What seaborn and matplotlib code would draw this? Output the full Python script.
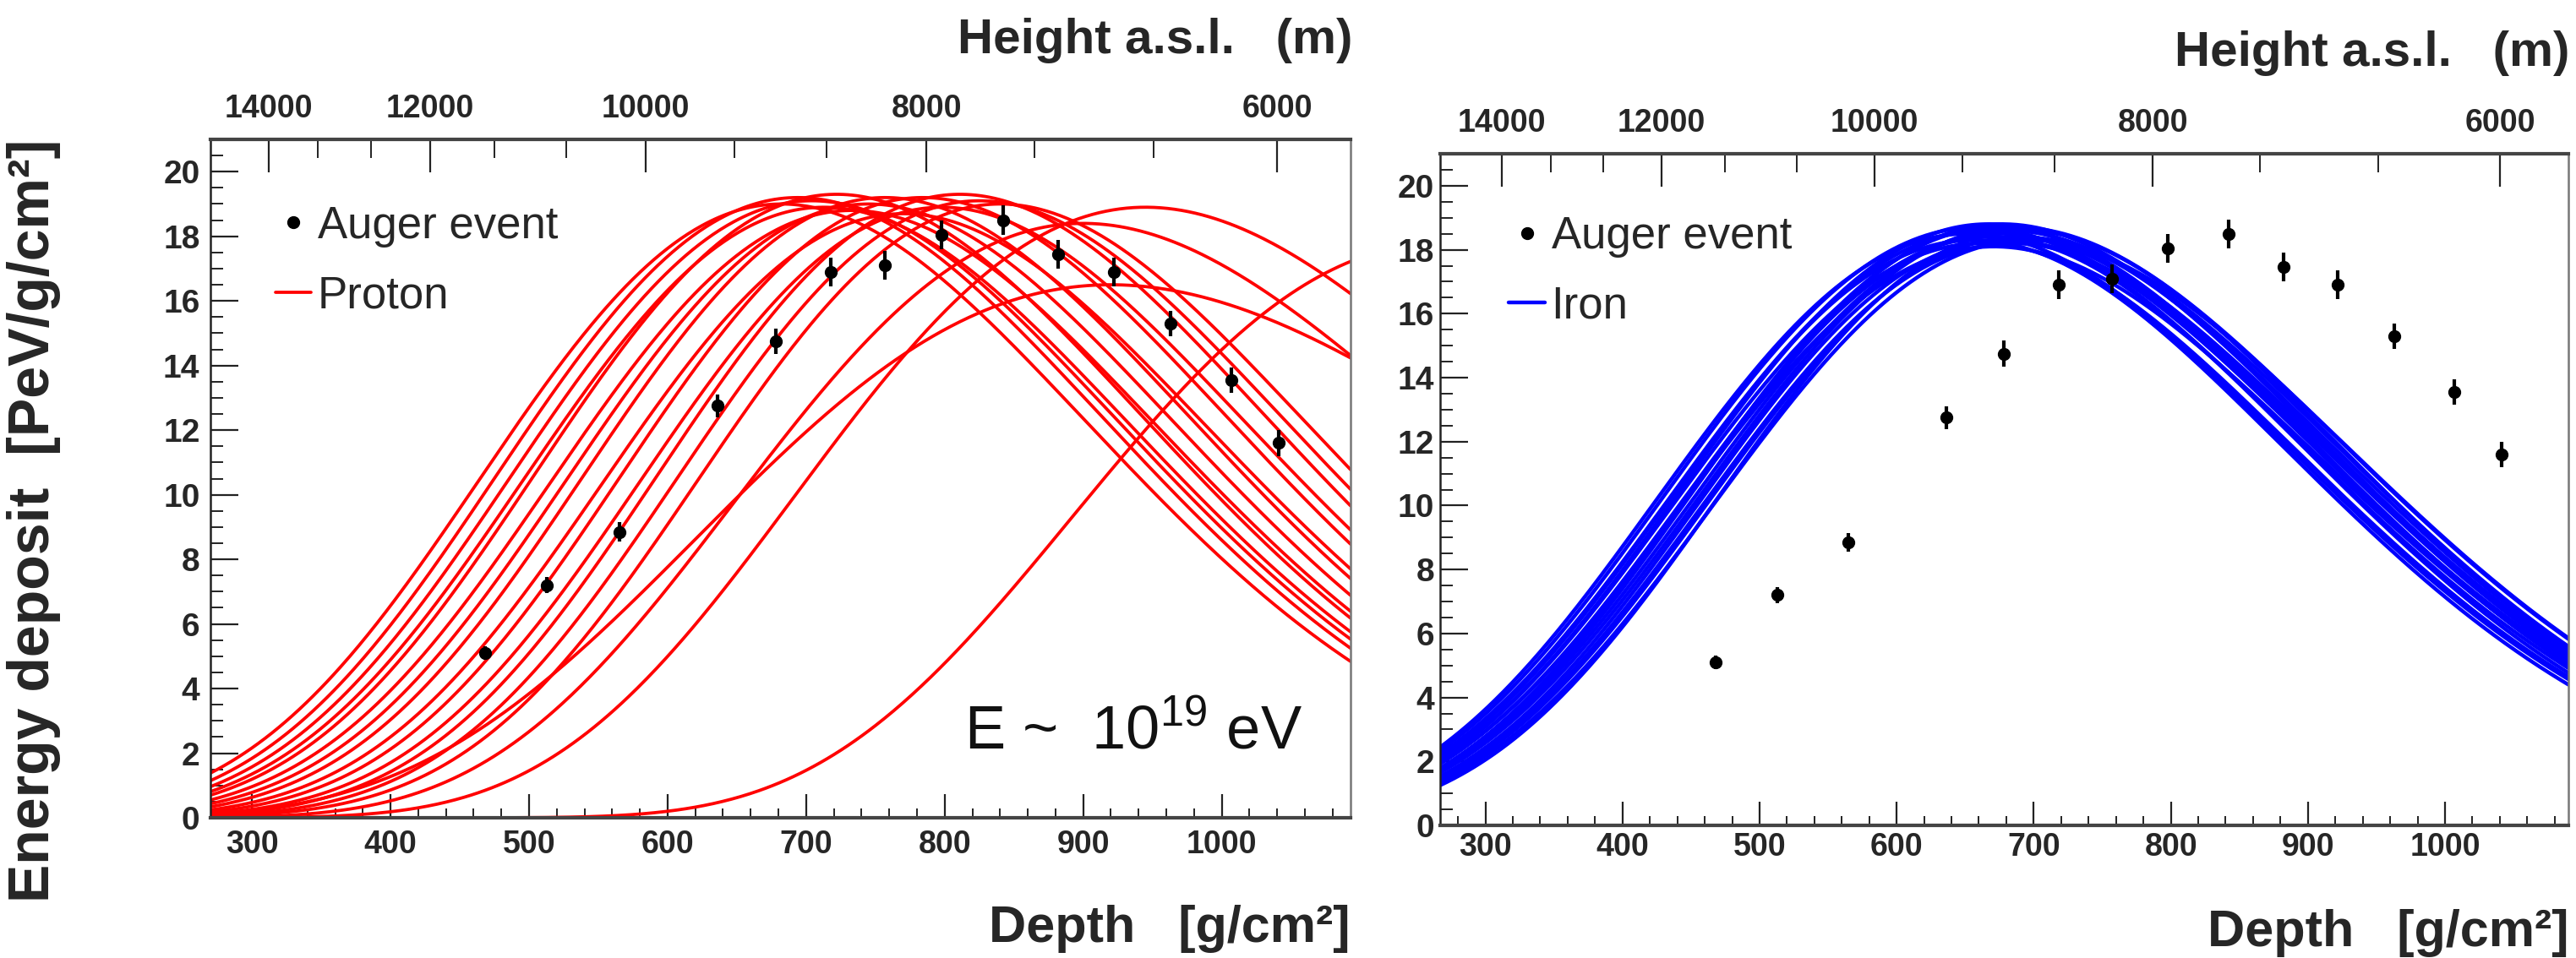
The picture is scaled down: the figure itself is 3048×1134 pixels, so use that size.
import numpy as np
import pandas as pd
import matplotlib
matplotlib.use("Agg")
import matplotlib.pyplot as plt
from matplotlib.ticker import MultipleLocator
from matplotlib.lines import Line2D
from matplotlib import font_manager
import seaborn as sns

# ---------------- data ----------------
auger_depth = [468, 513, 565, 636, 678, 718, 757, 798, 842, 882, 922, 963, 1007, 1041]
auger_edep = [5.1, 7.2, 8.85, 12.75, 14.75, 16.9, 17.1, 18.05, 18.5, 17.45, 16.9, 15.3, 13.55, 11.6]
auger_err = [0.2, 0.25, 0.3, 0.35, 0.4, 0.45, 0.45, 0.45, 0.45, 0.45, 0.45, 0.4, 0.4, 0.4]

# Gaisser-Hillas profile parameters of each simulated shower (Xmax, peak, X0, lambda)
proton_xmax = [682, 694, 704, 713, 722, 733, 745, 757, 770, 784, 798, 811, 825, 840,
               945, 900, 920, 1160]
proton_emax = [19.0, 19.2, 19.1, 18.9, 19.3, 18.8, 19.0, 19.2, 18.7, 19.2, 18.9, 19.3, 19.1, 19.0,
               18.9, 18.4, 16.5, 17.8]
proton_x0 = [-218, -206, -196, -187, -178, -167, -155, -143, -130, -116, -102, -89, -75, -60,
             145, 100, 20, 360]
proton_lambda = [53, 53, 53, 53, 53, 53, 53, 53, 53, 53, 53, 53, 53, 53,
                 80, 80, 100, 90]

iron_xmax = [652, 656, 659, 662, 665, 667, 669, 671, 673, 675, 677, 679, 681, 684, 687, 690, 693, 696]
iron_emax = [18.5, 18.3, 18.7, 18.2, 18.6, 18.8, 18.4, 18.1, 18.7, 18.5, 18.8, 18.3, 18.6, 18.2,
             18.7, 18.4, 18.6, 18.3]
iron_x0 = [-248, -244, -241, -238, -235, -233, -231, -229, -227, -225, -223, -221, -219, -216,
           -213, -210, -207, -204]
iron_lambda = [58, 56, 59, 57, 60, 58, 56, 59, 57, 60, 58, 56, 59, 57, 60, 58, 56, 59]

depth_ticks = [300, 400, 500, 600, 700, 800, 900, 1000]
edep_ticks = [0, 2, 4, 6, 8, 10, 12, 14, 16, 18, 20]
height_labels = ["14000", "12000", "10000", "8000", "6000"]
height_tick_depth = [312, 428.5, 584, 787, 1040]
height_minor_depth = [347.5, 386, 475, 527, 648, 715, 865, 951]

# ---------------- style ----------------
sns.set_style("ticks")
avail = {f.name for f in font_manager.fontManager.ttflist}
def pick(cands):
    for c in cands:
        if c in avail:
            return c
    return "DejaVu Sans"
SANS = pick(["Liberation Sans", "Arimo", "Noto Sans", "DejaVu Sans"])
plt.rcParams["font.family"] = [SANS, "DejaVu Sans"]
plt.rcParams["mathtext.fontset"] = "custom"
plt.rcParams["mathtext.rm"] = SANS
plt.rcParams["mathtext.it"] = SANS
plt.rcParams["axes.linewidth"] = 2.0

W, H = 3048, 1134
fig = plt.figure(figsize=(W / 100, H / 100), dpi=100)
fig.patch.set_facecolor("white")

def frac_box(x0, y0, x1, y1):
    return [x0 / W, 1 - y1 / H, (x1 - x0) / W, (y1 - y0) / H]

axL = fig.add_axes(frac_box(249, 165, 1598, 968))
axR = fig.add_axes(frac_box(1704, 182, 3039, 977))

def gh(x, xmax, emax, x0, lam):
    t = np.clip((x - x0) / (xmax - x0), 1e-9, None)
    w = (xmax - x0) / lam
    return emax * np.exp(w * (np.log(t) - t + 1.0))

def profiles(xlim, xmaxs, emaxs, x0s, lams):
    grid = np.linspace(xlim[0], xlim[1], 500)
    rows = []
    for i, (a, b, c, d) in enumerate(zip(xmaxs, emaxs, x0s, lams)):
        rows.append(pd.DataFrame({"depth": grid, "edep": gh(grid, a, b, c, d), "curve": i}))
    return pd.concat(rows, ignore_index=True)

xlimL = (270, 1093)
xlimR = (267, 1090)
df_p = profiles(xlimL, proton_xmax, proton_emax, proton_x0, proton_lambda)
df_fe = profiles(xlimR, iron_xmax, iron_emax, iron_x0, iron_lambda)

sns.lineplot(data=df_p, x="depth", y="edep", units="curve", estimator=None,
             color="#ff0000", linewidth=2.7, legend=False, sort=False, ax=axL)
sns.lineplot(data=df_fe, x="depth", y="edep", units="curve", estimator=None,
             color="#0000ff", linewidth=3.2, legend=False, sort=False, ax=axR)

for ax in (axL, axR):
    ax.errorbar(auger_depth, auger_edep, yerr=auger_err, fmt="o", color="black",
                ms=10, elinewidth=3, capsize=0, zorder=5)

def style_axes(ax, xlim, tickpad, ytickpad, toppad):
    ax.set_xlim(*xlim)
    ax.set_ylim(0, 21)
    ax.set_xlabel("")
    ax.set_ylabel("")
    ax.set_xticks(depth_ticks, labels=[str(v) for v in depth_ticks],
                  fontweight="bold", fontsize=27)
    ax.set_yticks(edep_ticks, labels=[str(v) for v in edep_ticks],
                  fontweight="bold", fontsize=28)
    ax.xaxis.set_minor_locator(MultipleLocator(20))
    ax.yaxis.set_minor_locator(MultipleLocator(0.5))
    ax.tick_params(axis="x", which="major", direction="in", length=20, width=1.6,
                   color="#222222", top=False, pad=tickpad)
    ax.tick_params(axis="x", which="minor", direction="in", length=8, width=1.4,
                   color="#222222", top=False)
    ax.tick_params(axis="y", which="major", direction="in", length=24, width=1.6,
                   color="#222222", right=False, pad=ytickpad)
    ax.tick_params(axis="y", which="minor", direction="in", length=11, width=1.4,
                   color="#222222", right=False)
    for s in ("top", "bottom"):
        ax.spines[s].set_linewidth(3.0)
        ax.spines[s].set_color("#444444")
    ax.spines["left"].set_linewidth(1.8)
    ax.spines["left"].set_color("#222222")
    ax.spines["right"].set_linewidth(1.8)
    ax.spines["right"].set_color("#777777")
    ax.spines["right"].set_visible(True)
    ax.spines["top"].set_visible(True)
    sec = ax.secondary_xaxis("top")
    sec.set_xticks(height_tick_depth, labels=height_labels, fontweight="bold", fontsize=27)
    sec.set_xticks(height_minor_depth, minor=True)
    sec.tick_params(axis="x", which="major", direction="in", length=28, width=1.6,
                    color="#222222", pad=toppad)
    sec.tick_params(axis="x", which="minor", direction="in", length=16, width=1.4,
                    color="#222222")
    sec.spines["top"].set_visible(False)

style_axes(axL, xlimL, 10, 9, 13)
style_axes(axR, xlimR, 6, 5, 13)

# legends
leg_kw = dict(loc="upper left", frameon=False, fontsize=38, handlelength=0.8,
              handletextpad=0.15, labelspacing=0.62, borderpad=0, borderaxespad=0)
hL = [Line2D([], [], marker="o", ls="none", color="black", ms=10),
      Line2D([], [], color="#ff0000", lw=2.7)]
axL.legend(hL, ["Auger event", "Proton"], bbox_to_anchor=(0.057, 0.903), **leg_kw)
hR = [Line2D([], [], marker="o", ls="none", color="black", ms=10),
      Line2D([], [], color="#0000ff", lw=3.2)]
axR.legend(hR, ["Auger event", "Iron"], bbox_to_anchor=(0.061, 0.908), **leg_kw)

axL.text(0.661, 0.103, r"E ~  10$^{19}$ eV", transform=axL.transAxes,
         fontsize=52, ha="left", va="baseline", color="#111111")

# axis titles (ROOT style, aligned to axis ends)
fig.text(1598 / W, 1 - 1115 / H, "Depth   [g/cm²]", ha="right", va="baseline",
         fontsize=44, fontweight="bold")
fig.text(3040 / W, 1 - 1120 / H, "Depth   [g/cm²]", ha="right", va="baseline",
         fontsize=44, fontweight="bold")
fig.text(1600 / W, 1 - 63 / H, "Height a.s.l.   (m)", ha="right", va="baseline",
         fontsize=42, fontweight="bold")
fig.text(3040 / W, 1 - 78 / H, "Height a.s.l.   (m)", ha="right", va="baseline",
         fontsize=42, fontweight="bold")
fig.text(40 / W, 1 - 165 / H, "Energy deposit  [PeV/g/cm²]", rotation=90,
         ha="center", va="top", fontsize=49, fontweight="bold")

fig.savefig("out.png", dpi=100, facecolor="white")
